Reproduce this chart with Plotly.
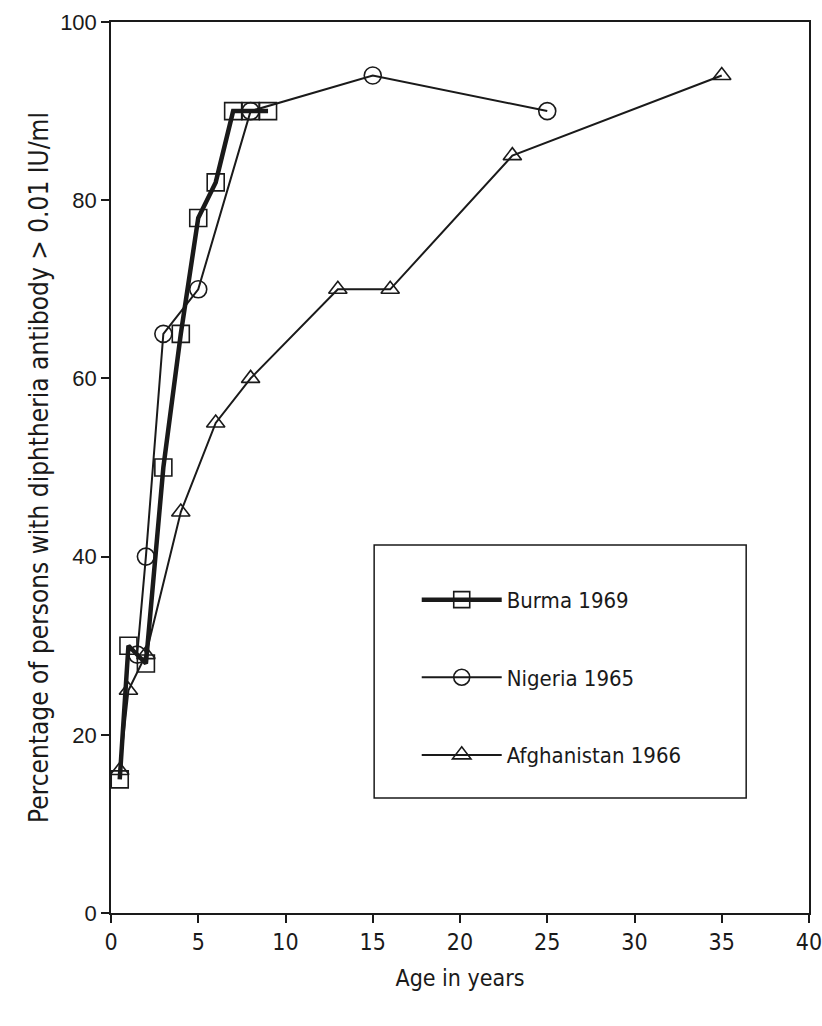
import plotly.graph_objects as go

burma_age = [0.5, 1, 2, 3, 4, 5, 6, 7, 8, 9]
burma_pct = [15, 30, 28, 50, 65, 78, 82, 90, 90, 90]

nigeria_age = [1.5, 2, 3, 5, 8, 15, 25]
nigeria_pct = [29, 40, 65, 70, 90, 94, 90]

afgh_age = [0.5, 1, 2, 4, 6, 8, 13, 16, 23, 35]
afgh_pct = [16, 25, 29, 45, 55, 60, 70, 70, 85, 94]

x_ticks = [0, 5, 10, 15, 20, 25, 30, 35, 40]
y_ticks = [0, 20, 40, 60, 80, 100]

COND = "DejaVu Sans Condensed, Liberation Sans Narrow, sans-serif"
REG = "Liberation Sans, Arial, sans-serif"
INK = "#1a1a1a"

fig = go.Figure()
fig.add_trace(go.Scatter(
    x=burma_age, y=burma_pct, mode="lines+markers", name="Burma 1969",
    legendgroup="a",
    line=dict(color=INK, width=4.5),
    marker=dict(symbol="square-open", size=17, color=INK, line=dict(width=1.6)),
))
fig.add_trace(go.Scatter(
    x=nigeria_age, y=nigeria_pct, mode="lines+markers", name="Nigeria 1965",
    legendgroup="b",
    line=dict(color=INK, width=2),
    marker=dict(symbol="circle-open", size=17, color=INK, line=dict(width=1.6)),
))
fig.add_trace(go.Scatter(
    x=afgh_age, y=afgh_pct, mode="lines+markers", name="Afghanistan 1966",
    legendgroup="c",
    line=dict(color=INK, width=2),
    marker=dict(symbol="triangle-up-open", size=16, color=INK, line=dict(width=1.6)),
))

# legend frame (decoration)
fig.add_shape(type="rect", xref="paper", yref="paper",
              x0=0.377, x1=0.910, y0=0.129, y1=0.413,
              line=dict(color=INK, width=1.5), fillcolor="rgba(0,0,0,0)", layer="below")

fig.update_layout(
    width=822, height=1026,
    margin=dict(l=111, r=13, t=22, b=113),
    paper_bgcolor="white", plot_bgcolor="white",
    font=dict(family=COND, color=INK, size=21),
    showlegend=True,
    legend=dict(
        x=0.438, y=0.375, xanchor="left", yanchor="top",
        borderwidth=0, bgcolor="rgba(0,0,0,0)",
        font=dict(family=COND, size=22, color=INK),
        tracegroupgap=46, itemwidth=80,
    ),
    xaxis=dict(
        range=[0, 40], tickvals=x_ticks, ticks="outside", ticklen=8, tickwidth=1.5,
        tickcolor=INK, ticklabeloverflow="allow",
        showline=True, linecolor=INK, linewidth=1.5, mirror=True,
        showgrid=False, zeroline=False, automargin=False,
        tickfont=dict(family=COND, size=23),
        title=dict(text="Age in years", font=dict(family=COND, size=23), standoff=16),
    ),
    yaxis=dict(
        range=[0, 100], tickvals=y_ticks, ticks="outside", ticklen=8, tickwidth=1.5,
        tickcolor=INK, ticklabeloverflow="allow",
        showline=True, linecolor=INK, linewidth=1.5, mirror=True,
        showgrid=False, zeroline=False, automargin=False,
        tickfont=dict(family=REG, size=22),
        title=dict(text="Percentage of persons with diphtheria antibody > 0.01 IU/ml",
                   font=dict(family=COND, size=26), standoff=4),
    ),
)

fig.write_html("out.html", config={"displayModeBar": False},
               post_script="document.body.style.margin='0';")
